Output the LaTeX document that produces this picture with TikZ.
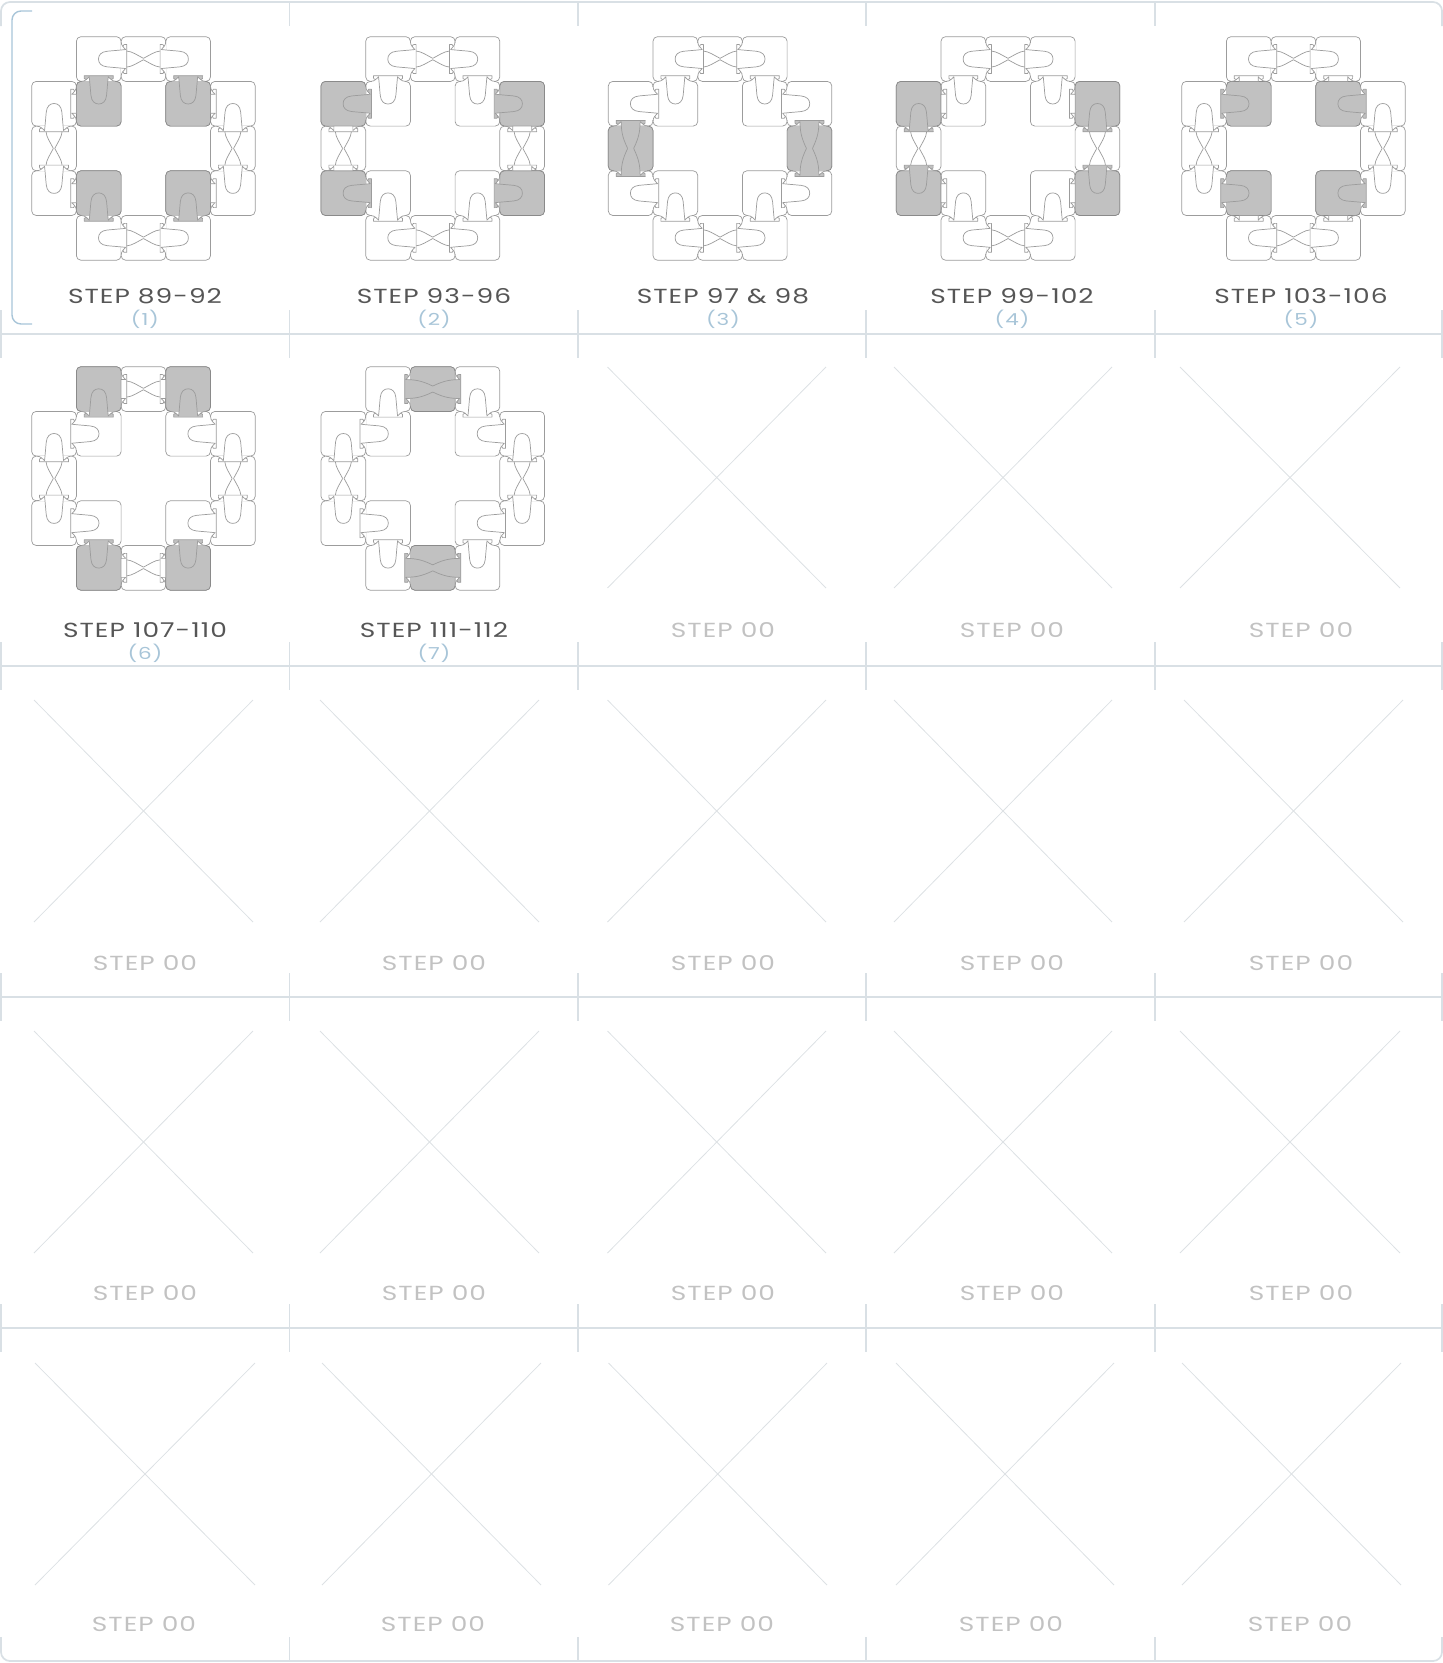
\documentclass[tikz,border=0pt]{standalone}
\usepackage{fontspec}
\newfontfamily\stepfont{Poppins}[FakeStretch=1.3,LetterSpace=5]
\definecolor{gridline}{HTML}{D9E0E5}
\definecolor{crossline}{HTML}{DDE1E4}
\definecolor{pieceline}{HTML}{9C9C9C}
\definecolor{piecedark}{HTML}{8A8A8A}
\definecolor{piecefill}{HTML}{C1C1C1}
\definecolor{bracketblue}{HTML}{A8C5D8}
\definecolor{steptext}{HTML}{565656}
\definecolor{emptytext}{HTML}{C2C2C2}
\tikzset{
  piece/.style={draw=pieceline, line width=0.4pt, line join=round},
  piecegrey/.style={draw=piecedark, line width=0.4pt, fill=piecefill, rounded corners=0.09cm},
  gridrule/.style={draw=gridline, line width=0.6pt},
  framerule/.style={draw=gridline, line width=1pt, rounded corners=0.18cm},
  crossrule/.style={draw=crossline, line width=0.45pt},
  steplabel/.style={font=\stepfont\fontsize{11.6}{12}\selectfont, text=steptext, inner sep=0pt},
  emptylabel/.style={steplabel, text=emptytext},
  numlabel/.style={font=\stepfont\fontsize{9.4}{10}\selectfont, text=bracketblue, inner sep=0pt}
}
% head ends, right side going in and left side coming back
\newcommand\hookR{.. controls (15.5,-3.5) and (14,-1.5) .. (12.5,-1.8) .. controls (10.5,-2.2) and (11,-4.5) .. (9.5,-4.5)}
\newcommand\hookL{.. controls (-11,-4.5) and (-10.5,-2.2) .. (-12.5,-1.8) .. controls (-14,-1.5) and (-15.5,-3.5) .. (-14.5,-5.7)}
\newcommand\edgeends{%
  \draw[piece] (-17.5,0) .. controls (-15.5,0) and (-13.5,-0.8) .. (-12.5,-1.8);
  \draw[piece] (17.5,0) .. controls (15.5,0) and (13.5,-0.8) .. (12.5,-1.8);}
\newcommand\tonguejoint[1]{%
  \fill[#1] (-16.5,-0.6) rectangle (16.5,0.6);
  \draw[piece, fill=#1] (-14.5,-5.7) -- (14.5,-5.7) \hookR
    .. controls (8.8,2) and (8.4,8) .. (7.8,14) .. controls (7.2,20) and (4,22.6) .. (0,22.6)
    .. controls (-4,22.6) and (-7.2,20) .. (-7.8,14) .. controls (-8.4,8) and (-8.8,2) .. (-9.5,-4.5) \hookL -- cycle;
  \edgeends}
\newcommand\stubjoint{%
  \draw[piece, fill=white] (-14.5,-5.7) -- (14.5,-5.7) \hookR -- (9.5,0) -- (-9.5,0) -- (-9.5,-4.5) \hookL -- cycle;
  \edgeends}
\newcommand\neckjoint{%
  \fill[piecefill] (-16.5,-0.6) rectangle (16.5,0.6);
  \fill[piecefill] (-14.5,-5.7) -- (14.5,-5.7) \hookR -- (9.5,1) -- (-9.5,1) -- (-9.5,-4.5) \hookL -- cycle;
  \draw[piece] (-3,22.35) .. controls (-9,10) and (-9.2,4) .. (-9.5,-4.5) \hookL -- (14.5,-5.7) \hookR
    .. controls (9.2,4) and (9,10) .. (3,22.35);
  \edgeends}
\newcommand\waist{%
  \draw[piece] (8,-5.7) .. controls (7.6,-11) and (4,-16) .. (0.7,-22.35);
  \draw[piece] (-8,-5.7) .. controls (-7.6,-11) and (-4,-16) .. (-0.7,-22.35);}
% #1 list of cell/cell/direction, #2 what sits on each joint
\newcommand\joints[2]{%
  \foreach \cx/\cy/\a in #1 {
    \begin{scope}[shift={(\cx*44.7+22.35,\cy*44.7+22.35)}, rotate=\a, shift={(0,22.35)}]
      #2
    \end{scope}
  }}
\newcommand\cells[1]{%
  \foreach \cx/\cy in {1/0,2/0,3/0,0/1,1/1,3/1,4/1,0/2,4/2,0/3,1/3,3/3,4/3,1/4,2/4,3/4}
    \draw[piece, fill=white, rounded corners=0.09cm] (\cx*44.7,\cy*44.7) rectangle ++(44.7,44.7);
  \foreach \cx/\cy in {#1}
    \draw[piecegrey] (\cx*44.7,\cy*44.7) rectangle ++(44.7,44.7);}
% joint groups: up 180, down 0, right 90, left -90
\newcommand\bonesTB{2/0/-90,2/0/90,2/4/-90,2/4/90}
\newcommand\bonesLR{0/2/180,0/2/0,4/2/180,4/2/0}
\newcommand\backTB{1/0/90,3/0/-90,1/4/90,3/4/-90}
\newcommand\backLR{0/1/0,0/3/180,4/1/0,4/3/180}
\newcommand\outerV{1/0/0,3/0/0,1/4/180,3/4/180}
\newcommand\outerH{0/1/90,4/1/-90,0/3/90,4/3/-90}
\newcommand\innerV{1/1/180,3/1/180,1/3/0,3/3/0}
\newcommand\innerH{1/1/-90,3/1/90,1/3/-90,3/3/90}
\begin{document}
\begin{tikzpicture}[x=0.02cm, y=-0.02cm]
  \useasboundingbox (0,0) rectangle (1443,1663);

  % sheet frame and rules
  \draw[framerule] (1,26) -- (1,2) -- (1442,2) -- (1442,26);
  \draw[framerule] (1,1637) -- (1,1661) -- (1442,1661) -- (1442,1637);
  \foreach \ry in {334,666,997,1328} {
    \draw[gridrule] (1,\ry) -- (1442,\ry);
    \foreach \rx in {1,289.5,578,866,1155,1442}
      \draw[gridrule] (\rx,\ry-24) -- (\rx,\ry+24);
  }
  \foreach \rx in {289.5,578,866,1155} {
    \draw[gridrule] (\rx,3) -- (\rx,26);
    \draw[gridrule] (\rx,1637) -- (\rx,1661);
  }

  % bracket round the first row
  \draw[draw=bracketblue, line width=0.8pt, rounded corners=0.18cm] (32,11) -- (12,11) -- (12,324) -- (32,324);

  % step 89-92
  \begin{scope}[shift={(31.7,36.7)}]
    \cells{1/1,3/1,1/3,3/3}
    \joints{\bonesTB}{\tonguejoint{white}\waist}
    \joints{\bonesLR}{\tonguejoint{white}\waist}
    \joints{\outerV}{\tonguejoint{piecefill}}
    \joints{\outerH}{\stubjoint}
  \end{scope}

  % step 93-96
  \begin{scope}[shift={(321,36.7)}]
    \cells{0/1,4/1,0/3,4/3}
    \joints{\bonesTB}{\tonguejoint{white}\waist}
    \joints{\bonesLR}{\stubjoint\waist}
    \joints{\outerV}{\tonguejoint{white}}
    \joints{\innerH}{\tonguejoint{piecefill}}
  \end{scope}

  % step 97 & 98
  \begin{scope}[shift={(608.3,36.7)}]
    \cells{0/2,4/2}
    \joints{\bonesTB}{\tonguejoint{white}\waist}
    \joints{\backLR}{\neckjoint}
    \joints{\outerV}{\tonguejoint{white}}
    \joints{\innerH}{\tonguejoint{white}}
  \end{scope}

  % step 99-102
  \begin{scope}[shift={(896.3,36.7)}]
    \cells{0/1,4/1,0/3,4/3}
    \joints{\bonesTB}{\tonguejoint{white}\waist}
    \joints{\bonesLR}{\tonguejoint{piecefill}\waist}
    \joints{\outerV}{\tonguejoint{white}}
    \joints{\innerH}{\stubjoint}
  \end{scope}

  % step 103-106
  \begin{scope}[shift={(1181.7,36.7)}]
    \cells{1/1,3/1,1/3,3/3}
    \joints{\bonesTB}{\tonguejoint{white}\waist}
    \joints{\bonesLR}{\tonguejoint{white}\waist}
    \joints{\outerH}{\tonguejoint{piecefill}}
    \joints{\outerV}{\stubjoint}
  \end{scope}

  % step 107-110
  \begin{scope}[shift={(31.7,366.7)}]
    \cells{1/0,3/0,1/4,3/4}
    \joints{\bonesTB}{\stubjoint\waist}
    \joints{\bonesLR}{\tonguejoint{white}\waist}
    \joints{\innerV}{\tonguejoint{piecefill}}
    \joints{\outerH}{\tonguejoint{white}}
  \end{scope}

  % step 111-112
  \begin{scope}[shift={(321,366.7)}]
    \cells{2/0,2/4}
    \joints{\backTB}{\neckjoint}
    \joints{\bonesLR}{\tonguejoint{white}\waist}
    \joints{\innerV}{\tonguejoint{white}}
    \joints{\outerH}{\tonguejoint{white}}
  \end{scope}

  % empty slots
  \foreach \xa/\ya/\xb/\yb in {
      607.5/367/826/588, 894/367/1112/588, 1180/367/1400/588,
      34/700/253/922, 320/700/539/922, 607.5/700/826/922, 894/700/1112/922, 1184/700/1403/922,
      34/1031/253/1253, 320/1031/539/1253, 607.5/1031/826/1253, 894/1031/1112/1253, 1180/1031/1400/1253,
      35/1363/255/1585, 322/1363/541/1585, 608.5/1363/827/1585, 896/1363/1114/1585, 1182/1363/1401/1585} {
    \draw[crossrule] (\xa,\ya) -- (\xb,\yb);
    \draw[crossrule] (\xa,\yb) -- (\xb,\ya);
  }

  % labels under the finished steps
  \foreach \n/\lx/\ly/\ltext in {
      1/145/296/STEP 89-92, 2/434/296/STEP 93-96, 3/723/296/STEP 97 \& 98,
      4/1012/296/STEP 99-102, 5/1301/296/STEP 103-106,
      6/145/630/STEP 107-110, 7/434/630/STEP 111-112} {
    \node[steplabel] (step\n) at (\lx,\ly) {\ltext};
    \node[numlabel] (num\n) at (\lx,\ly+23.5) {(\n)};
  }

  % labels of the empty slots
  \foreach \lx/\ly in {
      723/630, 1012/630, 1301/630,
      145/963, 434/963, 723/963, 1012/963, 1301/963,
      145/1293.5, 434/1293.5, 723/1293.5, 1012/1293.5, 1301/1293.5,
      144/1624, 433/1624, 722/1624, 1011/1624, 1300/1624}
    \node[emptylabel] (empty-\lx-\ly) at (\lx,\ly) {STEP 00};
\end{tikzpicture}
\end{document}
